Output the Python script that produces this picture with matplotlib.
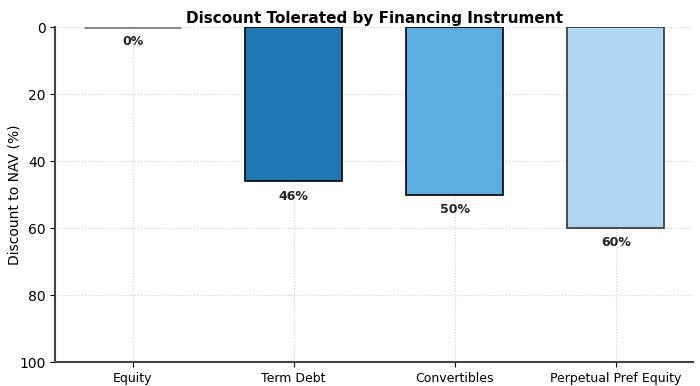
import matplotlib.pyplot as plt

categories = ["Equity", "Term Debt", "Convertibles", "Perpetual Pref Equity"]
discounts = [0, 46, 50, 60]
bar_colors = ["#808080", "#1f77b4", "#5dade2", "#aed6f1"]
edge_colors = ["#808080", "black", "black", "#333333"]
edge_widths = [2.0, 1.2, 1.2, 1.2]


def main() -> None:
    fig, ax = plt.subplots(figsize=(7, 3.86), dpi=100)

    x = range(len(categories))
    ax.bar(x, discounts, width=0.6, color=bar_colors, edgecolor=edge_colors,
           linewidth=edge_widths, zorder=2)

    for xi, v in zip(x, discounts):
        ax.text(xi, v + 2.5, f"{v}%", ha="center", va="top",
                fontsize=9, fontweight="bold", color="#222222", zorder=3)

    ax.set_xticks(list(x))
    ax.set_xticklabels(categories, fontsize=9)
    ax.set_ylim(100, 0)
    ax.set_yticks([0, 20, 40, 60, 80, 100])
    ax.tick_params(axis="y", labelsize=10)
    ax.set_ylabel("Discount to NAV (%)", fontsize=10, labelpad=-2)
    ax.set_title("Discount Tolerated by Financing Instrument",
                 fontsize=11, fontweight="bold", pad=3)

    ax.grid(True, linestyle=":", color="#cccccc", linewidth=0.8, zorder=0)
    ax.set_axisbelow(True)
    for side in ["top", "right"]:
        ax.spines[side].set_visible(False)
    for side in ["left", "bottom"]:
        ax.spines[side].set_color("#444444")
        ax.spines[side].set_linewidth(1.5)

    fig.subplots_adjust(left=0.079, right=0.99, top=0.93, bottom=0.062)
    fig.savefig("out.png")


if __name__ == "__main__":
    main()
